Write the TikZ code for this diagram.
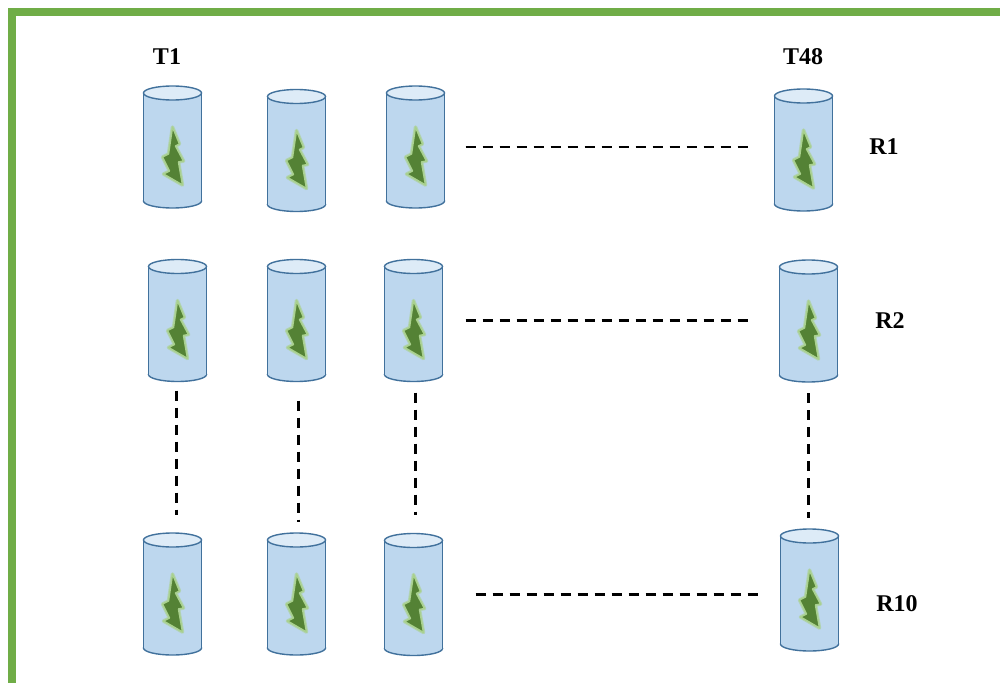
\documentclass[tikz,border=0pt]{standalone}
\usepackage{fontspec}
\setmainfont{Liberation Serif}
\usetikzlibrary{calc}
\definecolor{frame}{HTML}{70AD47}
\definecolor{cylbody}{HTML}{BDD7EE}
\definecolor{cyltop}{HTML}{DDEBF7}
\definecolor{cyledge}{HTML}{41719C}
\definecolor{boltdark}{HTML}{548235}
\definecolor{boltglow}{HTML}{A9D18E}
\tikzset{
  tank/.style={rectangle, minimum width=58pt, minimum height=122pt, inner sep=0pt},
  lbl/.style={font=\fontsize{24}{27}\selectfont\bfseries, inner sep=0pt},
  link/.style={dashed, dash pattern=on 10pt off 7pt, line width=2.6pt, black},
  edge/.style={draw=cyledge, line width=1.4pt}
}
\begin{document}
\begin{tikzpicture}[x=1pt, y=-1pt]
\useasboundingbox (0,0) rectangle (1000,682);
% outer frame, open to the right and bottom
\draw[frame, line width=8pt] (12,1000) -- (12,12.5) -- (1100,12.5);

% tanks: row r, column c
\node[tank] (c11) at (172.5,147) {};
\node[tank] (c12) at (296.5,150.5) {};
\node[tank] (c13) at (415.5,147) {};
\node[tank] (c14) at (803.5,150) {};
\node[tank] (c21) at (177.5,320.5) {};
\node[tank] (c22) at (296.5,320.5) {};
\node[tank] (c23) at (413.5,320.5) {};
\node[tank] (c24) at (808.5,321) {};
\node[tank] (c31) at (172.5,594) {};
\node[tank] (c32) at (296.5,594) {};
\node[tank] (c33) at (413.5,594.5) {};
\node[tank] (c34) at (809.5,590) {};

\foreach \n in {c11,c12,c13,c14,c21,c22,c23,c24,c31,c32,c33,c34}{
  \begin{scope}[shift={(\n.center)}]
    % bottom rim
    \filldraw[fill=cylbody, edge] (0,54) ellipse [x radius=29, y radius=7];
    \fill[cylbody] (-29,-54) rectangle (29,54);
    \draw[edge] (-29,-54) -- (-29,54) (29,-54) -- (29,54);
    % top rim
    \filldraw[fill=cyltop, edge] (0,-54) ellipse [x radius=29, y radius=7];
    % leaf bolt with a soft halo
    \draw[boltglow!60!cylbody, line width=3.5pt, line join=round]
      (0,-20) -- (7,-3) -- (3,-1) -- (11,14) -- (6,15) -- (10,38)
      -- (-9,27) -- (-3,24) -- (-10,10) -- (-4,7) -- cycle;
    \filldraw[fill=boltdark, draw=boltglow, line width=1.5pt, line join=round]
      (0,-20) -- (7,-3) -- (3,-1) -- (11,14) -- (6,15) -- (10,38)
      -- (-9,27) -- (-3,24) -- (-10,10) -- (-4,7) -- cycle;
  \end{scope}
}

% labels
\node[lbl] (t1) at (167,57) {T1};
\node[lbl] (t48) at (803,57) {T48};
\node[lbl] (r1) at (884,147) {R1};
\node[lbl] (r2) at (890,321) {R2};
\node[lbl] (r10) at (897,604) {R10};

% row links
\draw[link, shorten <=21pt, shorten >=26pt] (c13.east) -- (c13.east -| c14.west);
\draw[link, shorten <=23pt, shorten >=31pt] (c23.east) -- (c23.east -| c24.west);
\draw[link, shorten <=33pt, shorten >=20pt] (c33.east) -- (c33.east -| c34.west);

% column links
\draw[link, shorten <=9pt, shorten >=18pt] ([xshift=-1pt]c21.south) -- ([xshift=-1pt]c21.south |- c31.north);
\draw[link, shorten <=19pt, shorten >=11pt] ([xshift=2pt]c22.south) -- ([xshift=2pt]c22.south |- c32.north);
\draw[link, shorten <=11pt, shorten >=18pt] ([xshift=2pt]c23.south) -- ([xshift=2pt]c23.south |- c33.north);
\draw[link, shorten <=11pt, shorten >=11pt] (c24.south) -- (c24.south |- c34.north);
\end{tikzpicture}
\end{document}
